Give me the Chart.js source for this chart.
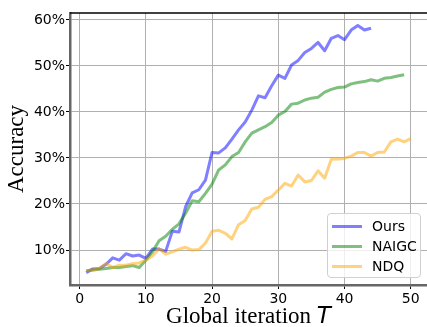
<!DOCTYPE html>
<html>
<head>
<meta charset="utf-8">
<script src="https://cdn.jsdelivr.net/npm/chart.js@4.4.0/dist/chart.umd.min.js"></script>
<style>
  body { margin: 0; background: #fff; }
  #wrap { position: relative; width: 427px; height: 327px; }
  #legend {
    position: absolute; left: 327px; top: 213px; width: 92px; height: 63px;
    border: 1px solid #d0d0d0; border-radius: 4px; background: rgba(255,255,255,0.8);
    font-family: "DejaVu Sans", sans-serif; font-size: 14px; color: #000;
  }
  #legend .row { position: absolute; left: 0; height: 20px; line-height: 20px; white-space: nowrap; }
  #legend .sw { position: absolute; left: 4px; top: 9px; width: 30px; height: 3px; }
  #legend .tx { position: absolute; left: 44px; top: 0; }
</style>
</head>
<body>
<div id="wrap">
  <canvas id="chart" width="427" height="327"></canvas>
  <div id="legend"></div>
</div>
<script>
const iterations = [1,2,3,4,5,6,7,8,9,10,11,12,13,14,15,16,17,18,19,20,21,22,23,24,25,
  26,27,28,29,30,31,32,33,34,35,36,37,38,39,40,41,42,43,44,45,46,47,48,49,50];
const seriesNames = ['Ours', 'NAIGC', 'NDQ'];
const ours = [5.1, 5.9, 6.0, 6.9, 8.3, 7.8, 9.2, 8.7, 8.9, 8.2, 10.2, 10.2, 9.7, 14.1, 13.9,
  19.4, 22.4, 23.1, 25.2, 31.2, 31.1, 32.2, 34.1, 36.1, 37.8, 40.4, 43.5, 43.1, 45.7, 48.0,
  47.3, 50.2, 51.2, 52.9, 53.8, 55.1, 53.3, 56.0, 56.6, 55.7, 57.8, 58.8, 57.8, 58.2];
const naigc = [5.5, 5.65, 5.8, 6.0, 6.2, 6.2, 6.4, 6.6, 6.2, 7.8, 9.6, 12.0, 13.0, 14.5, 15.7,
  18.0, 20.7, 20.5, 22.3, 24.3, 27.4, 28.5, 30.3, 31.2, 33.5, 35.4, 36.1, 36.8, 37.7, 39.3,
  40.1, 41.7, 41.9, 42.6, 43.0, 43.2, 44.3, 44.9, 45.3, 45.4, 46.1, 46.4, 46.6, 47.0, 46.7,
  47.3, 47.5, 47.8, 48.1];
const ndq = [5.5, 5.65, 6.0, 7.1, 6.2, 6.7, 6.7, 7.0, 7.2, 7.8, 8.7, 10.3, 9.1, 9.6, 10.2,
  10.6, 10.0, 10.1, 11.5, 14.1, 14.3, 13.6, 12.4, 15.5, 16.4, 18.9, 19.3, 21.0, 21.6, 23.0,
  24.5, 23.9, 26.3, 24.8, 25.1, 27.2, 25.6, 29.7, 29.8, 29.9, 30.4, 31.2, 31.2, 30.4, 31.2,
  31.3, 33.5, 34.1, 33.5, 34.2];
const xTicks = [0, 10, 20, 30, 40, 50];
const yTicks = [10, 20, 30, 40, 50, 60];

const colors = ['rgba(0,0,255,0.5)', 'rgba(0,128,0,0.5)', 'rgba(255,165,0,0.5)'];
const allSeries = [ours, naigc, ndq];

const datasets = allSeries.map((vals, k) => ({
  label: seriesNames[k],
  data: vals.map((v, i) => ({ x: iterations[i], y: v })),
  borderColor: colors[k],
  borderWidth: 3,
  pointRadius: 0,
  tension: 0,
  fill: false,
  borderJoinStyle: 'round',
  order: 3 - k
}));

// top spine + x title with italic T
const extras = {
  id: 'extras',
  afterDraw(chart) {
    const c = chart.ctx, a = chart.chartArea;
    c.save();
    c.strokeStyle = '#000';
    c.lineWidth = 1.5;
    c.beginPath();
    c.moveTo(a.left, a.top);
    c.lineTo(a.right, a.top);
    c.stroke();
    const part1 = 'Global iteration ', part2 = 'T';
    const f1 = '23px "Liberation Serif", serif', f2 = 'italic 23px "DejaVu Sans", sans-serif';
    c.font = f1; const w1 = c.measureText(part1).width;
    c.font = f2; const w2 = c.measureText(part2).width;
    const x0 = (a.left + a.right) / 2 - (w1 + w2) / 2;
    c.fillStyle = '#000';
    c.textBaseline = 'alphabetic';
    c.font = f1; c.fillText(part1, x0, 323);
    c.font = f2; c.fillText(part2, x0 + w1, 323);
    c.restore();
  }
};

new Chart(document.getElementById('chart'), {
  type: 'line',
  data: { datasets: datasets },
  options: {
    responsive: false,
    animation: false,
    devicePixelRatio: 1,
    layout: { padding: { top: 13, right: 0, left: 0, bottom: 0 } },
    plugins: { legend: { display: false }, tooltip: { enabled: false } },
    scales: {
      x: {
        type: 'linear',
        min: -1.45,
        max: 52.45,
        afterBuildTicks: s => { s.ticks = xTicks.map(v => ({ value: v })); },
        afterFit: s => { s.height = 42; },
        ticks: { includeBounds: false, font: { family: 'DejaVu Sans', size: 14 }, color: '#000', padding: 2, maxRotation: 0 },
        grid: { color: '#b0b0b0', lineWidth: 1, tickLength: 4, tickColor: '#000' },
        border: { color: '#666', width: 2.5 }
      },
      y: {
        min: 2.4,
        max: 61.5,
        afterBuildTicks: s => { s.ticks = yTicks.map(v => ({ value: v })); },
        afterFit: s => { s.width = 70; },
        ticks: { includeBounds: false, callback: v => v + '%', font: { family: 'DejaVu Sans', size: 14 }, color: '#000', padding: 1 },
        grid: { color: '#b0b0b0', lineWidth: 1, tickLength: 4, tickColor: '#000' },
        border: { color: '#666', width: 2.5 },
        title: { display: true, text: 'Accuracy', font: { family: 'Liberation Serif', size: 23 }, color: '#000', padding: { top: 3, bottom: 0 } }
      }
    }
  },
  plugins: [extras]
});

// legend built from the datasets
const leg = document.getElementById('legend');
seriesNames.forEach((name, k) => {
  const row = document.createElement('div');
  row.className = 'row';
  row.style.top = (2 + k * 20) + 'px';
  const sw = document.createElement('span');
  sw.className = 'sw';
  sw.style.background = colors[k];
  const tx = document.createElement('span');
  tx.className = 'tx';
  tx.textContent = name;
  row.appendChild(sw); row.appendChild(tx);
  leg.appendChild(row);
});
</script>
</body>
</html>
